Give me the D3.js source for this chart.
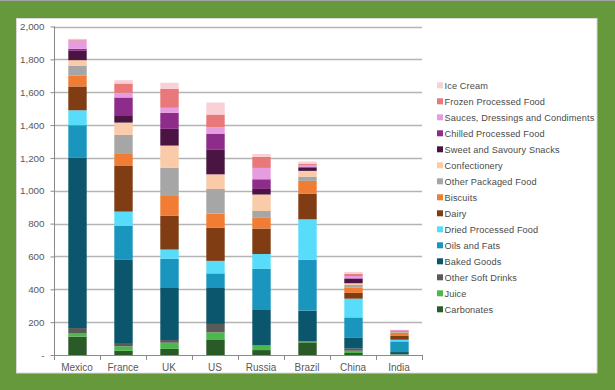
<!DOCTYPE html>
<html><head><meta charset="utf-8">
<script src="https://cdn.jsdelivr.net/npm/d3@7"></script>
<style>
html,body{margin:0;padding:0;background:#66993c;}
svg{display:block;font-family:"Liberation Sans",Arial,sans-serif;}
</style></head>
<body>
<svg id="chart" width="615" height="390"></svg>
<script>
const countries = ["Mexico","France","UK","US","Russia","Brazil","China","India"];
// series listed bottom to top
const seriesNames = ["Carbonates","Juice","Other Soft Drinks","Baked Goods","Oils and Fats","Dried Processed Food","Dairy","Biscuits","Other Packaged Food","Confectionery","Sweet and Savoury Snacks","Chilled Processed Food","Sauces, Dressings and Condiments","Frozen Processed Food","Ice Cream"];
const seriesColors = ["#2a5a27","#4cb84c","#5a5a5a","#0b566c","#1a96be","#57dcfa","#803d13","#f07d33","#a6a6a6","#f9cba8","#4a1443","#8e2c8c","#e59ddf","#e9787b","#f9d0d6"];
const carbonates   = [112, 26, 37, 95, 30, 77, 12, 2];
const juice        = [22, 27, 38, 43, 27, 4, 14, 2];
const otherSoft    = [30, 20, 16, 51, 4, 4, 15, 2];
const bakedGoods   = [1036, 506, 317, 219, 213, 185, 63, 12];
const oilsFats     = [199, 209, 179, 89, 250, 309, 125, 65];
const driedFood    = [91, 85, 55, 76, 91, 247, 114, 10];
const dairy        = [145, 278, 205, 203, 155, 155, 35, 23];
const biscuits     = [65, 73, 126, 85, 65, 79, 32, 20];
const otherPack    = [62, 116, 166, 150, 42, 26, 16, 4];
const confection   = [33, 75, 136, 89, 100, 35, 11, 4];
const snacks       = [57, 45, 102, 149, 34, 20, 26, 2];
const chilled      = [12, 108, 97, 99, 59, 6, 4, 2];
const sauces       = [51, 28, 31, 39, 69, 10, 14, 2];
const frozen       = [6, 57, 115, 77, 67, 8, 12, 2];
const iceCream     = [4, 20, 37, 73, 18, 13, 13, 2];
const seriesValues = [carbonates, juice, otherSoft, bakedGoods, oilsFats, driedFood, dairy, biscuits, otherPack, confection, snacks, chilled, sauces, frozen, iceCream];
const yTicks = [0,200,400,600,800,1000,1200,1400,1600,1800,2000];

const svg = d3.select("#chart");
// top hairline
svg.append("rect").attr("x",0).attr("y",0).attr("width",615).attr("height",1).attr("fill","#a3a3a3");
// white panel
svg.append("rect").attr("x",16.5).attr("y",18.5).attr("width",580.5).attr("height",354.5)
  .attr("fill","#ffffff").attr("stroke","#d8d8d8").attr("stroke-width",1);

const x = d3.scaleBand().domain(countries).range([54,422]).paddingInner(0).paddingOuter(0);
const y = d3.scaleLinear().domain([0,2000]).range([355,26.5]);

// gridlines
svg.append("g").selectAll("line").data(yTicks.filter(d=>d>0)).join("line")
  .attr("x1",54).attr("x2",422)
  .attr("y1",d=>Math.round(y(d))+0.5).attr("y2",d=>Math.round(y(d))+0.5)
  .attr("stroke","#b4b4b4").attr("stroke-width",1.4);

// stack
const table = countries.map((c,i)=>{const o={country:c}; seriesNames.forEach((s,k)=>o[s]=seriesValues[k][i]); return o;});
const stack = d3.stack().keys(seriesNames)(table);
const barW = x.bandwidth()*0.4;
svg.append("g").selectAll("g").data(stack).join("g")
  .attr("fill",(d,i)=>seriesColors[i])
  .selectAll("rect").data(d=>d).join("rect")
  .attr("x",d=>x(d.data.country)+(x.bandwidth()-barW)/2+0.5)
  .attr("width",barW)
  .attr("y",d=>y(d[1]))
  .attr("height",d=>Math.max(0,y(d[0])-y(d[1])));

// y axis
const yAxis = d3.axisLeft(y).tickValues(yTicks).tickSize(4).tickPadding(6)
  .tickFormat(d=> d===0 ? "-" : d3.format(",")(d));
const ya = svg.append("g").attr("transform","translate(54.5,0)").call(yAxis);
ya.select(".domain").attr("stroke","#8a8a8a").attr("d","M0,26.5V355.5");
ya.selectAll(".tick line").attr("stroke","#8a8a8a");
ya.selectAll("text").attr("fill","#595959").style("font-size","9.8px").attr("font-family","Liberation Sans, Arial, sans-serif");

// x axis
const xAxis = d3.axisBottom(x).tickSize(0).tickPadding(8);
const xa = svg.append("g").attr("transform","translate(0,355.5)").call(xAxis);
xa.select(".domain").attr("stroke","#8a8a8a").attr("d","M54,0H422");
xa.selectAll("text").attr("fill","#595959").style("font-size","10px").attr("font-family","Liberation Sans, Arial, sans-serif");
svg.append("g").selectAll("line").data(d3.range(countries.length+1)).join("line")
  .attr("x1",i=>Math.round(54+i*x.bandwidth())+0.5).attr("x2",i=>Math.round(54+i*x.bandwidth())+0.5)
  .attr("y1",355).attr("y2",360).attr("stroke","#8a8a8a");

// legend (top: Ice Cream)
const legendItems = seriesNames.map((n,i)=>({name:n,color:seriesColors[i]})).reverse();
const lg = svg.append("g").selectAll("g").data(legendItems).join("g")
  .attr("transform",(d,i)=>`translate(437,${85.3+i*16})`);
lg.append("rect").attr("x",0).attr("y",-3).attr("width",6).attr("height",6).attr("fill",d=>d.color);
lg.append("text").attr("x",7.5).attr("y",3.5).text(d=>d.name)
  .attr("fill","#4a4a4a").style("font-size","9.2px").style("letter-spacing","0.12px");
</script>
</body></html>
